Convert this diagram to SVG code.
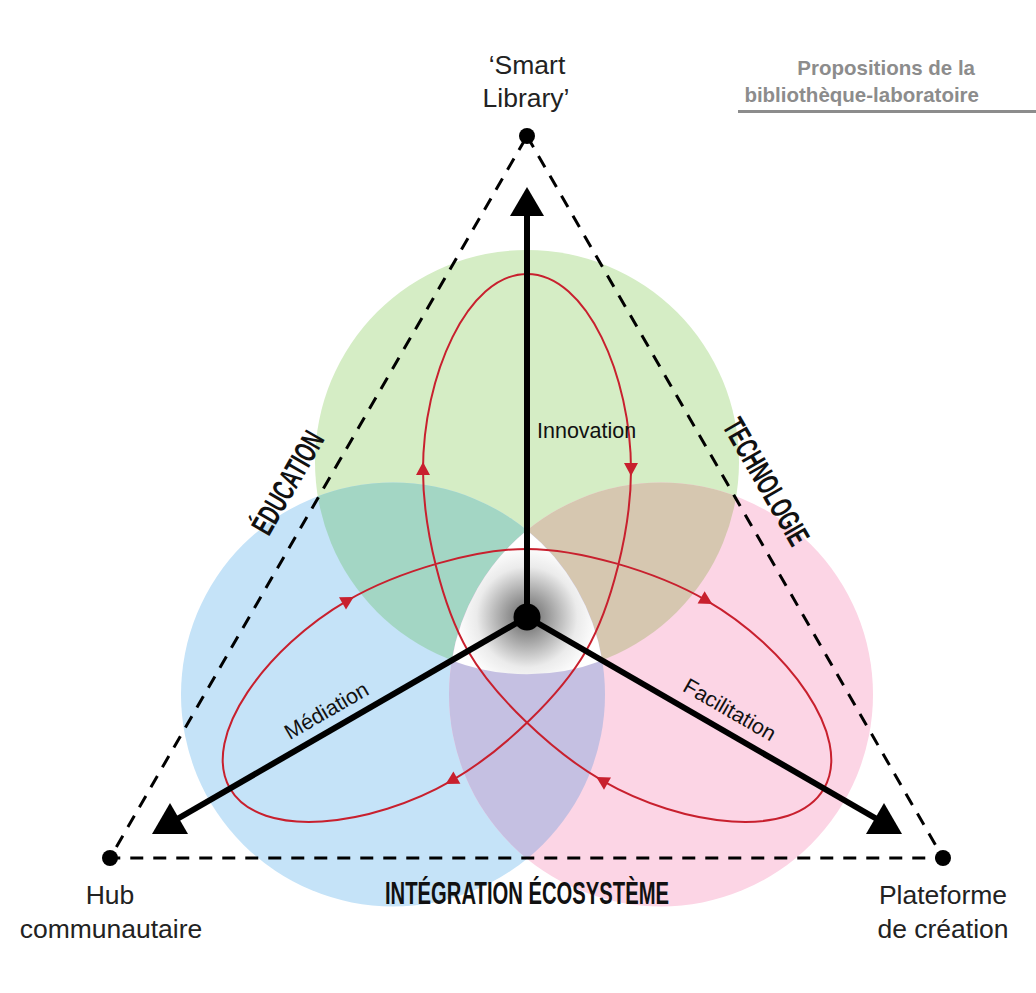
<svg xmlns="http://www.w3.org/2000/svg" width="1036" height="993" viewBox="0 0 1036 993">
  <defs>
    <style>
      .lbl{font-family:"Liberation Sans",Arial,Helvetica,sans-serif;font-size:26.5px;fill:#222;text-anchor:middle}
      .axis-lbl{font-family:"Liberation Sans",Arial,Helvetica,sans-serif;font-size:21.5px;fill:#111}
      .theme{font-family:"Liberation Sans",Arial,Helvetica,sans-serif;font-weight:bold;font-size:31px;fill:#111;text-anchor:middle}
      .title{font-family:"Liberation Sans",Arial,Helvetica,sans-serif;font-weight:bold;font-size:20.5px;fill:#8c8c8c;text-anchor:end}
      .dash{fill:none;stroke:#000;stroke-width:3;stroke-dasharray:13 10}
      .axis{stroke:#000;stroke-width:6}
      .loop{fill:none;stroke:#c8202e;stroke-width:2}
      .dot{fill:#000}
    </style>
    <clipPath id="clipGreen"><circle cx="527" cy="462" r="212"/></clipPath>
    <clipPath id="clipBlue"><circle cx="393" cy="694.5" r="212"/></clipPath>
    <radialGradient id="coreShade" cx="527" cy="617" r="84" gradientUnits="userSpaceOnUse">
      <stop offset="0" stop-color="#626262"/>
      <stop offset="0.3" stop-color="#a6a6a6"/>
      <stop offset="0.6" stop-color="#ebebeb"/>
      <stop offset="0.85" stop-color="#ffffff"/>
      <stop offset="1" stop-color="#ffffff"/>
    </radialGradient>
    <path id="ah" d="M7,0 L-6,-7 L-6,7 Z" fill="#c8202e"/>
  </defs>

  <rect width="1036" height="993" fill="#ffffff"/>

  <!-- three overlapping domains -->
  <g id="domains">
    <circle id="domain-technology-top" cx="527" cy="462" r="212" fill="#d5edc5"/>
    <circle id="domain-community" cx="393" cy="694.5" r="212" fill="#c5e3f8"/>
    <circle id="domain-creation" cx="661" cy="694.5" r="212" fill="#fcd5e5"/>
    <circle cx="393" cy="694.5" r="212" fill="#a3d6c4" clip-path="url(#clipGreen)"/>
    <circle cx="661" cy="694.5" r="212" fill="#d6c7b0" clip-path="url(#clipGreen)"/>
    <circle cx="661" cy="694.5" r="212" fill="#c5c0e2" clip-path="url(#clipBlue)"/>
    <path id="core" d="M527,530.2 A212,212 0 0 1 602.2,660.4 A212,212 0 0 1 451.8,660.4 A212,212 0 0 1 527,530.2 Z" fill="url(#coreShade)"/>
  </g>

  <g id="connectors">
    <!-- outer dashed triangle -->
    <path class="dash" d="M527,136 L943,858 L110,858 Z"/>

    <!-- red three-lobed cycle -->
    <path class="loop" d="M527,274 C587,274 631,377 631,470 C631,530 611,607.7 586,651 C561,694.4 503.7,750.6 451.7,780.6 C371.2,827.1 260,840.5 230,788.5 C200,736.5 267.2,646.9 347.7,600.4 C399.7,570.4 477,548.9 527,548.9 C577,548.9 654.3,570.4 706.3,600.4 C786.8,646.9 854,736.5 824,788.5 C794,840.5 682.8,827.1 602.3,780.6 C550.3,750.6 493,694.4 468,651 C443,607.7 423,530 423,470 C423,377 467,274 527,274 Z"/>
    <use href="#ah" transform="translate(631,469) rotate(90)"/>
    <use href="#ah" transform="translate(423,469) rotate(-90)"/>
    <use href="#ah" transform="translate(347.7,600.4) rotate(-30)"/>
    <use href="#ah" transform="translate(706.3,600.4) rotate(30)"/>
    <use href="#ah" transform="translate(451.7,780.6) rotate(150)"/>
    <use href="#ah" transform="translate(602.3,780.6) rotate(210)"/>

    <!-- radial axes -->
    <line class="axis" x1="527" y1="617" x2="527" y2="208"/>
    <line class="axis" x1="527" y1="617" x2="176.3" y2="819.5"/>
    <line class="axis" x1="527" y1="617" x2="877.7" y2="819.5"/>
    <polygon points="527,187 510,216 544,216"/>
    <polygon points="170,803 152,834 188,834"/>
    <polygon points="884,803 866,834 902,834"/>

    <!-- axis labels -->
    <text class="axis-lbl" x="537" y="438">Innovation</text>
    <text class="axis-lbl" text-anchor="middle" transform="translate(330,717) rotate(-30)">Médiation</text>
    <text class="axis-lbl" text-anchor="middle" transform="translate(726,716) rotate(30)">Facilitation</text>
  </g>

  <g id="node-center">
    <circle class="dot" cx="527" cy="617" r="13.5"/>
  </g>

  <g id="node-smart-library">
    <circle class="dot" cx="527" cy="136" r="8"/>
    <text class="lbl" x="527" y="74">&#8216;Smart</text>
    <text class="lbl" x="526" y="107">Library&#8217;</text>
  </g>

  <g id="node-hub">
    <circle class="dot" cx="110" cy="858" r="8"/>
    <text class="lbl" x="110" y="904">Hub</text>
    <text class="lbl" x="111" y="938">communautaire</text>
  </g>

  <g id="node-plateforme">
    <circle class="dot" cx="943" cy="858" r="8"/>
    <text class="lbl" x="943" y="904">Plateforme</text>
    <text class="lbl" x="943" y="938">de création</text>
  </g>

  <!-- side themes -->
  <g id="themes">
    <text class="theme" transform="translate(297,488) rotate(-60)" textLength="113" lengthAdjust="spacingAndGlyphs">ÉDUCATION</text>
    <text class="theme" transform="translate(757,487) rotate(60)" textLength="141" lengthAdjust="spacingAndGlyphs">TECHNOLOGIE</text>
    <text class="theme" x="527" y="904" textLength="284" lengthAdjust="spacingAndGlyphs">INTÉGRATION ÉCOSYSTÈME</text>
  </g>

  <g id="title">
    <text class="title" x="975" y="75">Propositions de la</text>
    <text class="title" x="979" y="102">bibliothèque-laboratoire</text>
    <line x1="738" y1="111.5" x2="1036" y2="111.5" stroke="#8c8c8c" stroke-width="3"/>
  </g>
</svg>
